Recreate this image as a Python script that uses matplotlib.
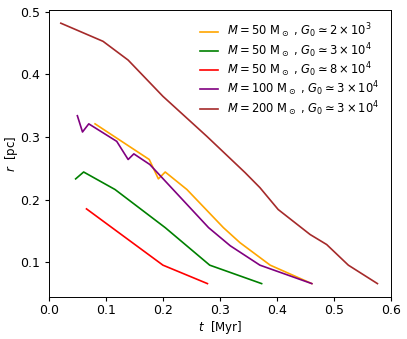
import matplotlib
matplotlib.use("Agg")
import matplotlib.pyplot as plt

# Readings from the reference: time [Myr] and radius [pc] per run
t_50_g2e3 = [0.081, 0.176, 0.192, 0.204, 0.242, 0.306, 0.335, 0.388, 0.461]
r_50_g2e3 = [0.321, 0.264, 0.233, 0.244, 0.216, 0.155, 0.131, 0.095, 0.0655]

t_50_g3e4 = [0.047, 0.061, 0.116, 0.204, 0.282, 0.373]
r_50_g3e4 = [0.233, 0.244, 0.216, 0.155, 0.095, 0.0655]

t_50_g8e4 = [0.066, 0.200, 0.278]
r_50_g8e4 = [0.185, 0.095, 0.0655]

t_100_g3e4 = [0.050, 0.059, 0.070, 0.119, 0.139, 0.149, 0.177, 0.280, 0.318, 0.370, 0.461]
r_100_g3e4 = [0.334, 0.308, 0.321, 0.293, 0.264, 0.273, 0.256, 0.155, 0.126, 0.095, 0.0655]

t_200_g3e4 = [0.021, 0.095, 0.139, 0.200, 0.277, 0.344, 0.370, 0.402, 0.458, 0.487, 0.525, 0.576]
r_200_g3e4 = [0.482, 0.453, 0.423, 0.365, 0.301, 0.243, 0.219, 0.184, 0.144, 0.128, 0.095, 0.0655]

labels = [r'$M = 50\ \mathrm{M}_\odot$ , $G_0 \simeq 2\times10^3$',
          r'$M = 50\ \mathrm{M}_\odot$ , $G_0 \simeq 3\times10^4$',
          r'$M = 50\ \mathrm{M}_\odot$ , $G_0 \simeq 8\times10^4$',
          r'$M = 100\ \mathrm{M}_\odot$ , $G_0 \simeq 3\times10^4$',
          r'$M = 200\ \mathrm{M}_\odot$ , $G_0 \simeq 3\times10^4$']
colors = ['orange', 'green', 'red', 'purple', 'brown']

plt.rcParams['xtick.labelsize'] = 9
plt.rcParams['ytick.labelsize'] = 9
plt.rcParams['axes.labelsize'] = 8.5
plt.rcParams['xtick.major.size'] = 2.8
plt.rcParams['ytick.major.size'] = 2.8
plt.rcParams['xtick.major.pad'] = 2.8
plt.rcParams['axes.linewidth'] = 0.7

fig = plt.figure(figsize=(4.07, 3.39), dpi=100)
ax = fig.add_axes([0.120, 0.125, 0.841, 0.845])

runs = [(t_50_g2e3, r_50_g2e3), (t_50_g3e4, r_50_g3e4), (t_50_g8e4, r_50_g8e4),
        (t_100_g3e4, r_100_g3e4), (t_200_g3e4, r_200_g3e4)]
for (t, r), lab, c in zip(runs, labels, colors):
    ax.plot(t, r, color=c, linewidth=1.2, label=lab)

ax.set_xlim(0, 0.6)
ax.set_xlabel(r'$t$  [Myr]', labelpad=1)
ax.set_ylabel(r'$r$  [pc]', labelpad=0)
ax.legend(loc='upper right', frameon=False, fontsize=8.3, handlelength=1.6,
          handletextpad=0.8, labelspacing=0.05, borderaxespad=0.6)

fig.savefig('out.png', dpi=100)
